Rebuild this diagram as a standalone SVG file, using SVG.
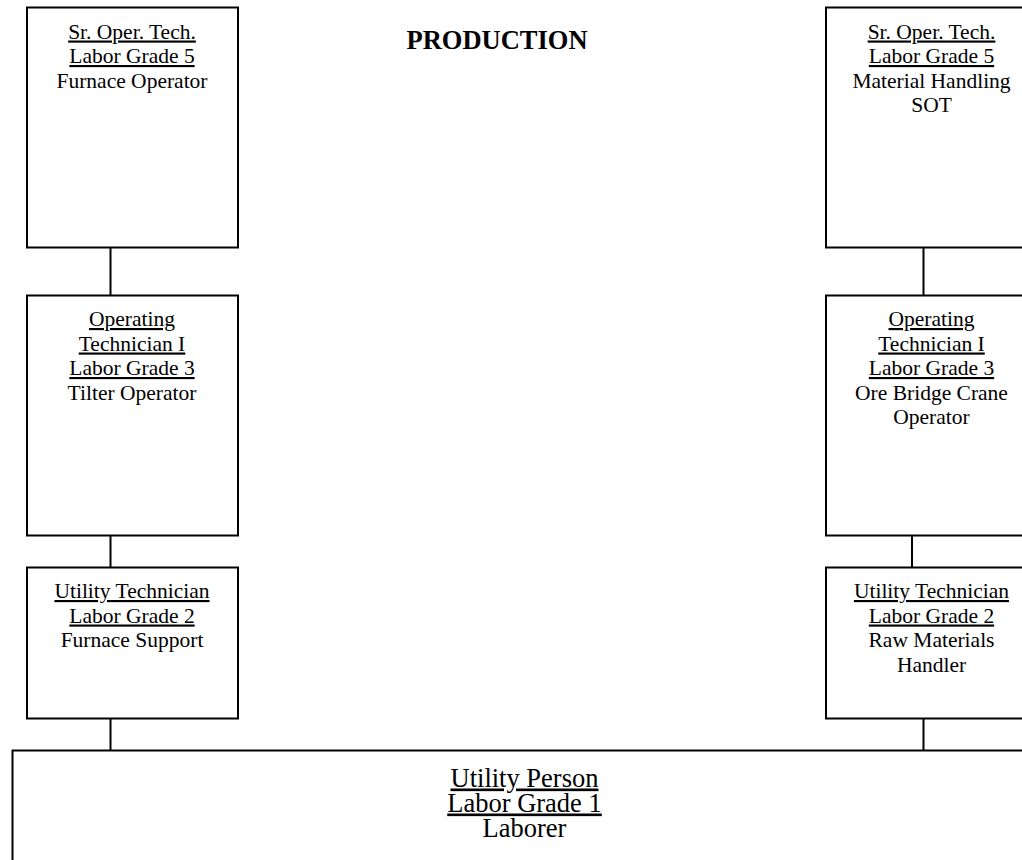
<svg xmlns="http://www.w3.org/2000/svg" width="1022" height="860" viewBox="0 0 1022 860">
  <style>
    .box { fill: #ffffff; stroke: #000000; stroke-width: 2; }
    .conn line { stroke: #000000; stroke-width: 2; }
    text { font-family: "Liberation Serif", "Times New Roman", serif; fill: #000000; text-anchor: middle; }
    .t { font-size: 21.5px; }
    .big { font-size: 26.5px; }
    .u { text-decoration: underline; }
    .title { font-size: 26.5px; font-weight: bold; }
  </style>
  <rect width="1022" height="860" fill="#ffffff"/>

  <!-- connectors -->
  <g id="connectors" class="conn">
    <line x1="110.5" y1="247.5" x2="110.5" y2="295.5"/>
    <line x1="110.5" y1="535.5" x2="110.5" y2="567.5"/>
    <line x1="110.5" y1="718.5" x2="110.5" y2="750.5"/>
    <line x1="923.5" y1="247.5" x2="923.5" y2="295.5"/>
    <line x1="912" y1="535.5" x2="912" y2="567.5"/>
    <line x1="923.5" y1="718.5" x2="923.5" y2="750.5"/>
  </g>

  <text id="heading" class="title" x="497" y="48.5">PRODUCTION</text>

  <!-- left column -->
  <g id="furnace-operator">
    <rect class="box" x="27" y="7.5" width="211" height="240"/>
    <text class="t u" x="132" y="38.5">Sr. Oper. Tech.</text>
    <text class="t u" x="132" y="63">Labor Grade 5</text>
    <text class="t" x="132" y="87.5">Furnace Operator</text>
  </g>
  <g id="tilter-operator">
    <rect class="box" x="27" y="295.5" width="211" height="240"/>
    <text class="t u" x="132" y="326">Operating</text>
    <text class="t u" x="132" y="350.5">Technician I</text>
    <text class="t u" x="132" y="375">Labor Grade 3</text>
    <text class="t" x="132" y="399.5">Tilter Operator</text>
  </g>
  <g id="furnace-support">
    <rect class="box" x="27" y="567.5" width="211" height="151"/>
    <text class="t u" x="132" y="598">Utility Technician</text>
    <text class="t u" x="132" y="622.5">Labor Grade 2</text>
    <text class="t" x="132" y="647">Furnace Support</text>
  </g>

  <!-- right column -->
  <g id="material-handling-sot">
    <rect class="box" x="826" y="7.5" width="211" height="240"/>
    <text class="t u" x="931.5" y="38.5">Sr. Oper. Tech.</text>
    <text class="t u" x="931.5" y="63">Labor Grade 5</text>
    <text class="t" x="931.5" y="87.5">Material Handling</text>
    <text class="t" x="931.5" y="112">SOT</text>
  </g>
  <g id="ore-bridge-crane-operator">
    <rect class="box" x="826" y="295.5" width="211" height="240"/>
    <text class="t u" x="931.5" y="326">Operating</text>
    <text class="t u" x="931.5" y="350.5">Technician I</text>
    <text class="t u" x="931.5" y="375">Labor Grade 3</text>
    <text class="t" x="931.5" y="399.5">Ore Bridge Crane</text>
    <text class="t" x="931.5" y="424">Operator</text>
  </g>
  <g id="raw-materials-handler">
    <rect class="box" x="826" y="567.5" width="211" height="151"/>
    <text class="t u" x="931.5" y="598">Utility Technician</text>
    <text class="t u" x="931.5" y="622.5">Labor Grade 2</text>
    <text class="t" x="931.5" y="647">Raw Materials</text>
    <text class="t" x="931.5" y="671.5">Handler</text>
  </g>

  <!-- bottom row -->
  <g id="utility-person">
    <rect class="box" x="12.5" y="750.5" width="1025" height="130"/>
    <text class="big u" x="524.5" y="786.5">Utility Person</text>
    <text class="big u" x="524.5" y="811.5">Labor Grade 1</text>
    <text class="big" x="524.5" y="836.5">Laborer</text>
  </g>
</svg>
